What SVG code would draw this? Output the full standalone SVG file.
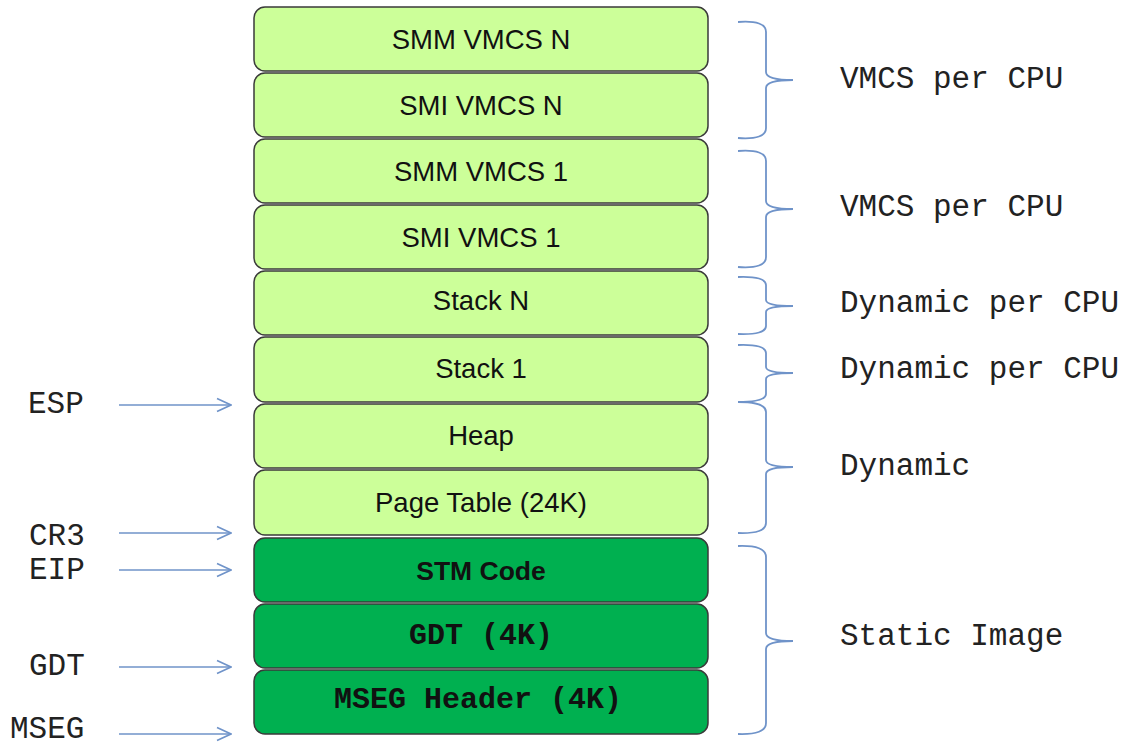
<svg xmlns="http://www.w3.org/2000/svg" width="1127" height="745" viewBox="0 0 1127 745">
  <style>
    .blk { stroke: #3a3a3a; stroke-width: 1.5; }
    .light { fill: #CCFF99; }
    .dark { fill: #00B050; }
    .lbl { font-family: "Liberation Sans", Arial, sans-serif; font-size: 27.5px; fill: #111; text-anchor: middle; }
    .lblb { font-family: "Liberation Sans", Arial, sans-serif; font-size: 26.5px; font-weight: bold; fill: #111; text-anchor: middle; }
    .mono { font-family: "Liberation Mono", "Courier New", monospace; font-size: 31px; fill: #222; }
    .monob { font-family: "Liberation Mono", "Courier New", monospace; font-size: 30px; font-weight: bold; fill: #111; text-anchor: middle; }
    .brace { fill: none; stroke: #6F93C9; stroke-width: 1.8; }
    .ptr { fill: none; stroke: #6F93C9; stroke-width: 1.6; }
  </style>
  <defs>
    <marker id="open" viewBox="0 0 16 16" refX="15" refY="8" markerWidth="16" markerHeight="16" markerUnits="userSpaceOnUse" orient="auto">
      <path d="M1,1.5 L15,8 L1,14.5" fill="none" stroke="#6F93C9" stroke-width="1.6"/>
    </marker>
  </defs>
  <rect width="1127" height="745" fill="#ffffff"/>

  <!-- memory layout blocks, top to bottom -->
  <g id="smm-vmcs-n"><rect class="blk light" x="254" y="7" width="454" height="64" rx="11"/><text class="lbl" x="481" y="49">SMM VMCS N</text></g>
  <g id="smi-vmcs-n"><rect class="blk light" x="254" y="73" width="454" height="64" rx="11"/><text class="lbl" x="481" y="115">SMI VMCS N</text></g>
  <g id="smm-vmcs-1"><rect class="blk light" x="254" y="139" width="454" height="64" rx="11"/><text class="lbl" x="481" y="181">SMM VMCS 1</text></g>
  <g id="smi-vmcs-1"><rect class="blk light" x="254" y="205" width="454" height="64" rx="11"/><text class="lbl" x="481" y="247">SMI VMCS 1</text></g>
  <g id="stack-n"><rect class="blk light" x="254" y="271" width="454" height="64" rx="11"/><text class="lbl" x="481" y="310">Stack N</text></g>
  <g id="stack-1"><rect class="blk light" x="254" y="337" width="454" height="65" rx="11"/><text class="lbl" x="481" y="378">Stack 1</text></g>
  <g id="heap"><rect class="blk light" x="254" y="404" width="454" height="64" rx="11"/><text class="lbl" x="481" y="445">Heap</text></g>
  <g id="page-table"><rect class="blk light" x="254" y="470" width="454" height="65" rx="11"/><text class="lbl" x="481" y="512">Page Table (24K)</text></g>
  <g id="stm-code"><rect class="blk dark" x="254" y="538" width="454" height="64" rx="11"/><text class="lblb" x="481" y="580">STM Code</text></g>
  <g id="gdt-4k"><rect class="blk dark" x="254" y="604" width="454" height="64" rx="11"/><text class="monob" x="481" y="644">GDT (4K)</text></g>
  <g id="mseg-header"><rect class="blk dark" x="254" y="670" width="454" height="64" rx="11"/><text class="monob" x="478" y="708">MSEG Header (4K)</text></g>

  <!-- register pointers -->
  <g id="connectors">
    <line class="ptr" x1="119" y1="405" x2="231" y2="405" marker-end="url(#open)"/>
    <line class="ptr" x1="119" y1="533" x2="231" y2="533" marker-end="url(#open)"/>
    <line class="ptr" x1="119" y1="570" x2="231" y2="570" marker-end="url(#open)"/>
    <line class="ptr" x1="119" y1="667" x2="231" y2="667" marker-end="url(#open)"/>
    <line class="ptr" x1="119" y1="734" x2="231" y2="734" marker-end="url(#open)"/>
  </g>
  <g id="reg-labels">
    <text class="mono" x="28" y="413">ESP</text>
    <text class="mono" x="29" y="545">CR3</text>
    <text class="mono" x="29" y="579">EIP</text>
    <text class="mono" x="29" y="675">GDT</text>
    <text class="mono" x="10" y="738">MSEG</text>
  </g>

  <!-- region braces -->
  <g id="braces">
    <path class="brace" d="M738,22 Q766,20 766,32 L766,72 Q766,80 793,80 Q766,80 766,88 L766,128 Q766,140 738,138"/>
    <path class="brace" d="M738,151 Q766,149 766,161 L766,201 Q766,209 793,209 Q766,209 766,217 L766,257 Q766,269 738,267"/>
    <path class="brace" d="M738,277 Q766,276 766,285 L766,300 Q766,306 793,306 Q766,306 766,312 L766,326 Q766,335 738,334"/>
    <path class="brace" d="M738,345 Q766,344 766,353 L766,367 Q766,373 793,373 Q766,373 766,379 L766,394 Q766,402 738,402"/>
    <path class="brace" d="M738,402 Q766,402 766,412 L766,460 Q766,467 793,467 Q766,467 766,474 L766,523 Q766,534 738,533"/>
    <path class="brace" d="M738,546 Q766,545 766,557 L766,633 Q766,641 793,641 Q766,641 766,649 L766,723 Q766,735 738,734"/>
  </g>
  <g id="region-labels">
    <text class="mono" x="840" y="88">VMCS per CPU</text>
    <text class="mono" x="840" y="216">VMCS per CPU</text>
    <text class="mono" x="840" y="312">Dynamic per CPU</text>
    <text class="mono" x="840" y="378">Dynamic per CPU</text>
    <text class="mono" x="840" y="475">Dynamic</text>
    <text class="mono" x="840" y="645">Static Image</text>
  </g>
</svg>
